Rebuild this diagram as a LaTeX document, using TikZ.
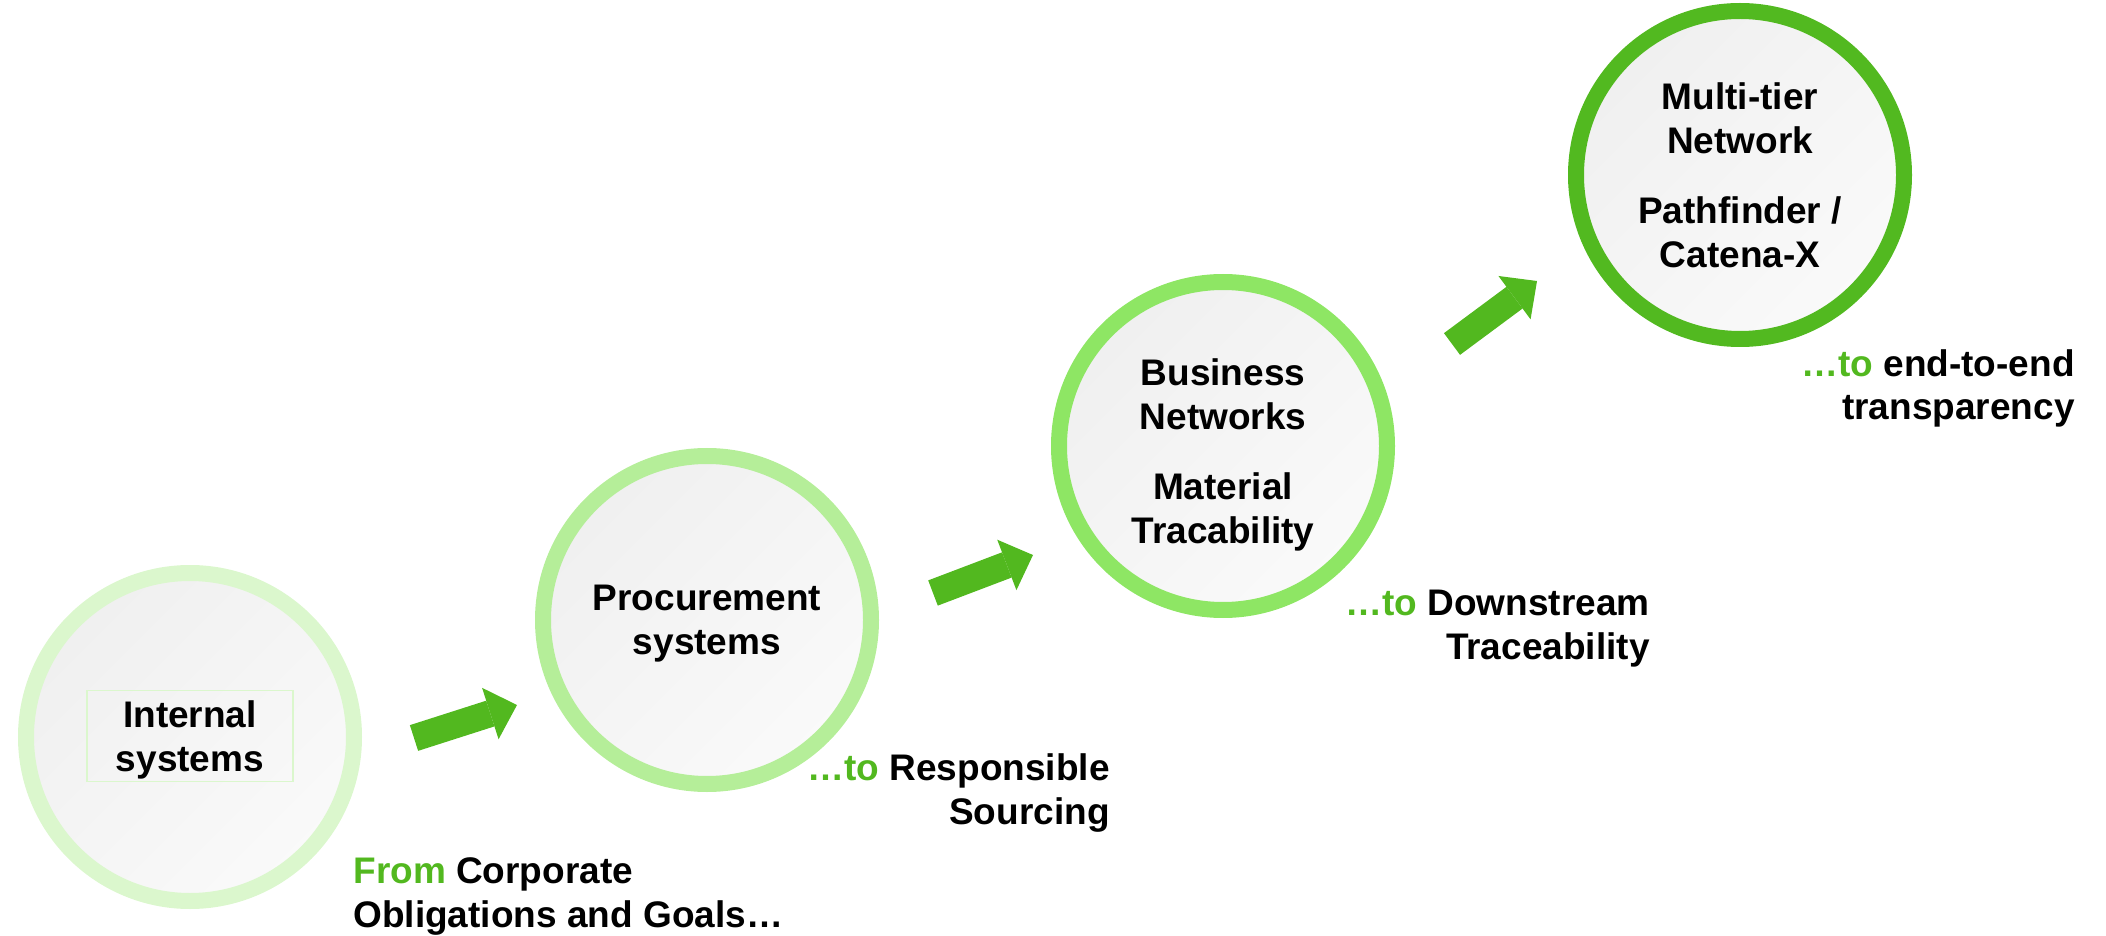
\documentclass[tikz,border=0pt]{standalone}
\usepackage{fontspec}
\setmainfont{Liberation Sans}
\usetikzlibrary{arrows.meta}

\definecolor{ringA}{HTML}{DBF7CD}
\definecolor{ringB}{HTML}{B5EE99}
\definecolor{ringC}{HTML}{8EE664}
\definecolor{ringD}{HTML}{52B920}
\definecolor{leafgreen}{HTML}{52B81F}

\begin{document}
\begin{tikzpicture}[x=0.5pt, y=-0.5pt,
        stage/.style={circle, draw=#1, line width=8pt, minimum size=164pt, inner sep=0pt,
            top color=black!6, bottom color=black!2, shading angle=45,
            align=center, text depth=0pt, font=\fontsize{18.5}{22.2}\selectfont\bfseries},
        steparrow/.style={leafgreen, line width=13.5pt,
            -{Triangle[width=27pt, length=14pt, line width=0pt]}},
        caption/.style={inner sep=0pt, font=\fontsize{18.5}{21.7}\selectfont\bfseries}]
        \useasboundingbox (0,0) rectangle (2106,936);

        % Stages
        \node[stage=ringA] (internal) at (190,737) {};
        \node[draw=ringA, line width=0.8pt, minimum width=103pt, minimum height=45.5pt,
            align=center, text depth=0pt, font=\fontsize{18.5}{22.2}\selectfont\bfseries]
            (internaltxt) at (190,736) {Internal\\systems};
        \node[stage=ringB] (procurement) at (707,620) {Procurement\\systems};
        \node[stage=ringC] (business) at (1223,446) {};
        \node[align=center, text depth=0pt, font=\fontsize{18.5}{22.2}\selectfont\bfseries]
            (businesstxt) at (1223,451) {Business\\Networks\\[12.5pt]Material\\Tracability};
        \node[stage=ringD] (multitier) at (1740,175) {Multi-tier\\Network\\[12.5pt]Pathfinder /\\Catena-X};

        % Arrows between the stages
        \coordinate (a1s) at (414,738);
        \coordinate (a1e) at (517,705);
        \coordinate (a2s) at (933,593);
        \coordinate (a2e) at (1033,555);
        \coordinate (a3s) at (1452,344);
        \coordinate (a3e) at (1537,281);
        \draw[steparrow] (a1s) -- (a1e);
        \draw[steparrow] (a2s) -- (a2e);
        \draw[steparrow] (a3s) -- (a3e);

        % Captions (base = last line)
        \node[caption, anchor=base west, align=left] (fromtxt) at (353,927)
            {\textcolor{leafgreen}{From} Corporate\\Obligations and Goals…};
        \node[caption, anchor=base east, align=right] (sourcingtxt) at (1110,824)
            {\textcolor{leafgreen}{…to} Responsible\\Sourcing};
        \node[caption, anchor=base east, align=right] (downstreamtxt) at (1650,659)
            {\textcolor{leafgreen}{…to} Downstream\\Traceability};
        \node[caption, anchor=base east, align=right] (transparencytxt) at (2075,420)
            {\textcolor{leafgreen}{…to} end-to-end\\transparency};
\end{tikzpicture}
\end{document}
